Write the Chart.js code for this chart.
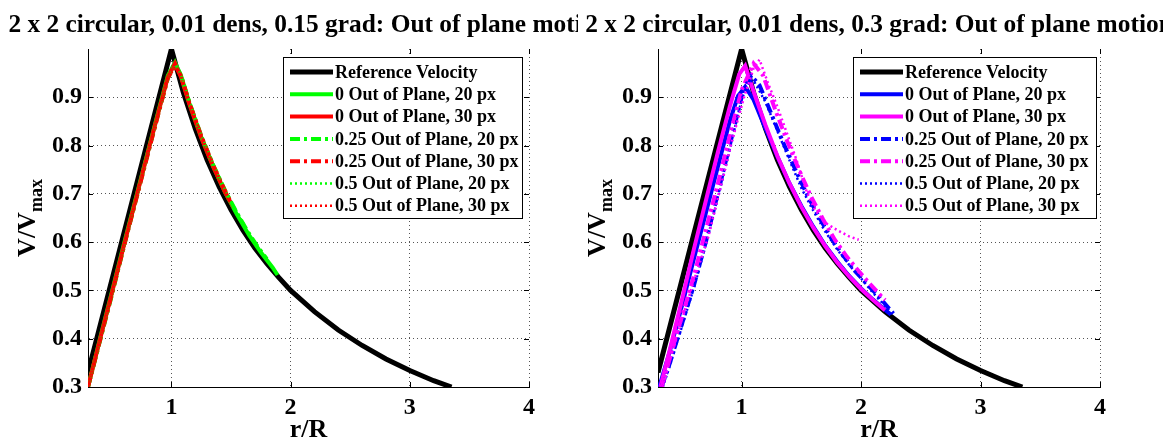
<!DOCTYPE html>
<html><head><meta charset="utf-8">
<script src="https://cdn.jsdelivr.net/npm/chart.js@4.4.0/dist/chart.umd.min.js"></script>
<style>
html,body{margin:0;padding:0;background:#fff;width:1163px;height:442px;overflow:hidden;}
#wrapL{position:absolute;left:0;top:0;width:578px;height:442px;}
#wrapR{position:absolute;left:578px;top:0;width:585px;height:442px;}
canvas{display:block;}
</style></head><body>
<div id="wrapL"><canvas id="cL" width="578" height="442" style="width:578px;height:442px"></canvas></div>
<div id="wrapR"><canvas id="cR" width="585" height="442" style="width:585px;height:442px"></canvas></div>
<script>
// ---------- data ----------
const titleLeft = '2 x 2 circular, 0.01 dens, 0.15 grad: Out of plane motion';
const titleRight = '2 x 2 circular, 0.01 dens, 0.3 grad: Out of plane motion';
const xTicks = [1, 2, 3, 4];
const xTickLabels = ['1', '2', '3', '4'];
const yTicks = [0.3, 0.4, 0.5, 0.6, 0.7, 0.8, 0.9];
const yTickLabels = ['0.3', '0.4', '0.5', '0.6', '0.7', '0.8', '0.9'];
const legendLabels = ['Reference Velocity', '0 Out of Plane, 20 px', '0 Out of Plane, 30 px',
  '0.25 Out of Plane, 20 px', '0.25 Out of Plane, 30 px', '0.5 Out of Plane, 20 px', '0.5 Out of Plane, 30 px'];

// reference velocity (both panels)
const refR = [0.3, 1.0, 1.1, 1.2, 1.3, 1.4, 1.5, 1.6, 1.7, 1.8, 1.9, 2.0, 2.2, 2.4, 2.6, 2.8, 3.0, 3.2, 3.35];
const refV = [0.33, 1.0, 0.91, 0.835, 0.77, 0.715, 0.667, 0.625, 0.588, 0.556, 0.527, 0.5, 0.456, 0.418, 0.386, 0.358, 0.334, 0.313, 0.3];

// left panel (0.15 grad)
const lG0R = [0.3, 0.4, 0.5, 0.6, 0.7, 0.8, 0.9, 0.97, 1.03, 1.08, 1.15, 1.25, 1.35, 1.45, 1.55, 1.65, 1.75, 1.85, 1.89];
const lG0V = [0.30, 0.40, 0.497, 0.595, 0.69, 0.785, 0.88, 0.945, 0.972, 0.945, 0.888, 0.818, 0.757, 0.703, 0.657, 0.615, 0.579, 0.547, 0.532];
const lR0R = [0.3, 0.4, 0.5, 0.6, 0.7, 0.8, 0.9, 0.97, 1.03, 1.08, 1.15, 1.25, 1.35, 1.45, 1.52];
const lR0V = [0.30, 0.398, 0.494, 0.592, 0.688, 0.784, 0.878, 0.942, 0.97, 0.942, 0.886, 0.816, 0.756, 0.703, 0.672];
const lG25R = [0.3, 0.4, 0.5, 0.6, 0.7, 0.8, 0.9, 0.97, 1.03, 1.08, 1.15, 1.25, 1.35, 1.45, 1.55, 1.65, 1.72, 1.8];
const lG25V = [0.30, 0.395, 0.49, 0.59, 0.686, 0.782, 0.876, 0.94, 0.968, 0.946, 0.89, 0.82, 0.76, 0.707, 0.66, 0.618, 0.592, 0.565];
const lR25R = [0.3, 0.4, 0.5, 0.6, 0.7, 0.8, 0.9, 0.97, 1.03, 1.08, 1.15, 1.25, 1.35, 1.45, 1.5];
const lR25V = [0.30, 0.396, 0.492, 0.59, 0.685, 0.78, 0.875, 0.94, 0.966, 0.944, 0.889, 0.82, 0.759, 0.706, 0.682];
const lG5R = [0.3, 0.4, 0.5, 0.6, 0.7, 0.8, 0.9, 0.97, 1.03, 1.08, 1.15, 1.25, 1.35, 1.45, 1.55, 1.62];
const lG5V = [0.30, 0.393, 0.489, 0.587, 0.683, 0.779, 0.874, 0.938, 0.965, 0.948, 0.892, 0.822, 0.762, 0.708, 0.662, 0.632];
const lR5R = [0.3, 0.4, 0.5, 0.6, 0.7, 0.8, 0.9, 0.97, 1.03, 1.08, 1.15, 1.25, 1.35, 1.45, 1.5];
const lR5V = [0.30, 0.394, 0.49, 0.588, 0.684, 0.78, 0.874, 0.937, 0.964, 0.946, 0.891, 0.821, 0.761, 0.708, 0.684];

// right panel (0.3 grad)
const rB0R = [0.31, 0.4, 0.5, 0.6, 0.7, 0.8, 0.9, 0.97, 1.03, 1.1, 1.2, 1.3, 1.4, 1.5, 1.6, 1.7, 1.8, 1.9, 2.0, 2.1, 2.2, 2.25];
const rB0V = [0.30, 0.375, 0.468, 0.565, 0.66, 0.755, 0.85, 0.903, 0.922, 0.895, 0.835, 0.777, 0.722, 0.675, 0.632, 0.593, 0.56, 0.53, 0.504, 0.481, 0.46, 0.45];
const rM0R = [0.32, 0.4, 0.5, 0.6, 0.7, 0.8, 0.9, 0.98, 1.03, 1.1, 1.2, 1.3, 1.4, 1.5, 1.6, 1.7, 1.8, 1.9, 2.0, 2.1, 2.2];
const rM0V = [0.30, 0.378, 0.48, 0.585, 0.685, 0.785, 0.88, 0.948, 0.965, 0.912, 0.842, 0.778, 0.722, 0.673, 0.63, 0.592, 0.558, 0.529, 0.503, 0.48, 0.459];
const rB25R = [0.33, 0.4, 0.5, 0.6, 0.7, 0.8, 0.9, 1.0, 1.08, 1.15, 1.25, 1.35, 1.45, 1.55, 1.65, 1.75, 1.85, 1.95, 2.05, 2.15, 2.27];
const rB25V = [0.30, 0.35, 0.43, 0.51, 0.6, 0.7, 0.8, 0.9, 0.945, 0.925, 0.865, 0.805, 0.75, 0.697, 0.651, 0.608, 0.572, 0.54, 0.513, 0.487, 0.452];
const rM25R = [0.33, 0.4, 0.5, 0.6, 0.7, 0.8, 0.9, 1.0, 1.1, 1.18, 1.28, 1.38, 1.48, 1.58, 1.68, 1.78, 1.88, 1.98, 2.08, 2.2];
const rM25V = [0.30, 0.36, 0.445, 0.53, 0.625, 0.72, 0.82, 0.915, 0.97, 0.945, 0.875, 0.81, 0.75, 0.695, 0.648, 0.605, 0.57, 0.54, 0.512, 0.48];
const rB5R = [0.34, 0.4, 0.5, 0.6, 0.7, 0.8, 0.9, 0.98, 1.04, 1.1, 1.2, 1.3, 1.4, 1.5, 1.6, 1.7, 1.8, 1.9, 2.0, 2.1, 2.25];
const rB5V = [0.30, 0.345, 0.425, 0.505, 0.595, 0.69, 0.79, 0.875, 0.93, 0.935, 0.89, 0.83, 0.77, 0.712, 0.665, 0.622, 0.585, 0.553, 0.525, 0.495, 0.455];
const rM5R = [0.34, 0.45, 0.6, 0.72, 0.82, 0.92, 1.02, 1.1, 1.15, 1.22, 1.3, 1.38, 1.46, 1.55, 1.62, 1.7, 1.8, 1.9, 1.98];
const rM5V = [0.30, 0.40, 0.52, 0.61, 0.71, 0.81, 0.9, 0.96, 0.978, 0.93, 0.88, 0.825, 0.77, 0.70, 0.665, 0.64, 0.625, 0.612, 0.605];

// ---------- styling ----------
const SERIF = '"Liberation Serif", "Times New Roman", serif';
const widths = [5, 4, 4, 4, 4, 2.5, 2.5];
const dashes = [[], [], [], [10, 4, 3, 4], [10, 4, 3, 4], [2, 3], [2, 3]];

function pts(rs, vs) { return rs.map((r, i) => ({ x: r, y: vs[i] })); }

function makeDatasets(series, colors) {
  const n = series.length;
  return series.map((s, i) => ({
    label: legendLabels[i],
    data: pts(s[0], s[1]),
    showLine: true,
    borderColor: colors[i],
    backgroundColor: colors[i],
    borderWidth: widths[i],
    borderDash: dashes[i],
    pointRadius: 0,
    pointHoverRadius: 0,
    tension: 0,
    fill: false,
    order: n - i
  }));
}

const decoPlugin = {
  id: 'deco',
  afterDatasetsDraw(chart, args, opts) {
    const ctx = chart.ctx;
    const ca = chart.chartArea;
    const xs = chart.scales.x, ys = chart.scales.y;
    ctx.save();
    // inward ticks
    ctx.strokeStyle = '#000';
    ctx.lineWidth = 1;
    ctx.setLineDash([]);
    ctx.beginPath();
    xTicks.forEach(v => {
      const px = Math.round(xs.getPixelForValue(v)) + 0.5;
      ctx.moveTo(px, ca.bottom); ctx.lineTo(px, ca.bottom - 5);
      ctx.moveTo(px, ca.top); ctx.lineTo(px, ca.top + 5);
    });
    yTicks.forEach(v => {
      const py = Math.round(ys.getPixelForValue(v)) + 0.5;
      ctx.moveTo(ca.left, py); ctx.lineTo(ca.left + 5, py);
      ctx.moveTo(ca.right, py); ctx.lineTo(ca.right - 5, py);
    });
    ctx.stroke();

    // legend
    const b = opts.box;
    ctx.fillStyle = '#fff';
    ctx.fillRect(b.left, b.top, b.right - b.left, b.bottom - b.top);
    ctx.strokeStyle = '#000';
    ctx.lineWidth = 1;
    ctx.strokeRect(b.left + 0.5, b.top + 0.5, b.right - b.left, b.bottom - b.top);
    ctx.font = 'bold 18px ' + SERIF;
    ctx.textBaseline = 'middle';
    ctx.textAlign = 'left';
    chart.data.datasets.forEach((ds, i) => {
      const y = b.top + 15 + i * 22.3;
      ctx.beginPath();
      ctx.strokeStyle = ds.borderColor;
      ctx.lineWidth = ds.borderWidth;
      ctx.setLineDash(ds.borderDash);
      ctx.moveTo(b.left + 7, y);
      ctx.lineTo(b.left + 50, y);
      ctx.stroke();
      ctx.setLineDash([]);
      ctx.fillStyle = '#000';
      ctx.fillText(ds.label, b.left + 52, y + 1);
    });

    // title
    ctx.fillStyle = '#000';
    ctx.font = 'bold 25.4px ' + SERIF;
    ctx.textAlign = 'center';
    ctx.textBaseline = 'alphabetic';
    ctx.fillText(opts.title, (ca.left + ca.right) / 2, 32);

    // x label
    ctx.font = 'bold 26px ' + SERIF;
    ctx.fillText('r/R', (ca.left + ca.right) / 2, 437);

    // y label rotated: V/V with subscript max
    const cy = (ca.top + ca.bottom) / 2;
    ctx.font = 'bold 26px ' + SERIF;
    const w1 = ctx.measureText('V/V').width;
    ctx.font = 'bold 18px ' + SERIF;
    const w2 = ctx.measureText('max').width;
    const total = w1 + w2;
    ctx.translate(ca.left - 53, cy);
    ctx.rotate(-Math.PI / 2);
    ctx.textAlign = 'left';
    ctx.font = 'bold 26px ' + SERIF;
    ctx.fillText('V/V', -total / 2, 0);
    ctx.font = 'bold 18px ' + SERIF;
    ctx.fillText('max', -total / 2 + w1, 7);
    ctx.restore();
  }
};

function makeChart(id, series, colors, cfg) {
  return new Chart(document.getElementById(id), {
    type: 'scatter',
    data: { datasets: makeDatasets(series, colors) },
    options: {
      responsive: false,
      animation: false,
      events: [],
      layout: { padding: { left: 0, right: cfg.padRight, top: 49, bottom: 0 } },
      plugins: {
        legend: { display: false },
        tooltip: { enabled: false },
        title: { display: false },
        deco: { title: cfg.title, box: cfg.box }
      },
      scales: {
        x: {
          type: 'linear', min: 0.3, max: 4,
          afterBuildTicks: s => { s.ticks = xTicks.map(v => ({ value: v })); },
          afterFit: s => { s.height = 55; },
          ticks: {
            autoSkip: false, maxRotation: 0, padding: 6, color: '#000',
            font: { family: SERIF, size: 24, weight: 'bold' },
            callback: v => xTickLabels[xTicks.indexOf(v)]
          },
          grid: { color: '#555', lineWidth: 1, drawTicks: false },
          border: { display: true, color: '#000', width: 1, dash: [1, 3] }
        },
        y: {
          type: 'linear', min: 0.3, max: 1.0,
          afterBuildTicks: s => { s.ticks = yTicks.map(v => ({ value: v })); },
          afterFit: s => { s.width = cfg.yWidth; },
          ticks: {
            autoSkip: false, padding: 6, color: '#000',
            font: { family: SERIF, size: 24, weight: 'bold' },
            callback: v => yTickLabels[yTicks.indexOf(v)]
          },
          grid: { color: '#555', lineWidth: 1, drawTicks: false },
          border: { display: true, color: '#000', width: 1, dash: [1, 3] }
        }
      }
    },
    plugins: [decoPlugin]
  });
}

const GREEN = '#00ff00', RED = '#ff0000', BLUE = '#0000ff', MAG = '#ff00ff', BLACK = '#000000';

makeChart('cL',
  [[refR, refV], [lG0R, lG0V], [lR0R, lR0V], [lG25R, lG25V], [lR25R, lR25V], [lG5R, lG5V], [lR5R, lR5V]],
  [BLACK, GREEN, RED, GREEN, RED, GREEN, RED],
  { title: titleLeft, padRight: 49, yWidth: 88, box: { left: 283, top: 57, right: 522, bottom: 218 } });

makeChart('cR',
  [[refR, refV], [rB0R, rB0V], [rM0R, rM0V], [rB25R, rB25V], [rM25R, rM25V], [rB5R, rB5V], [rM5R, rM5V]],
  [BLACK, BLUE, MAG, BLUE, MAG, BLUE, MAG],
  { title: titleRight, padRight: 63, yWidth: 80, box: { left: 275, top: 57, right: 518, bottom: 218 } });
</script>
</body></html>
